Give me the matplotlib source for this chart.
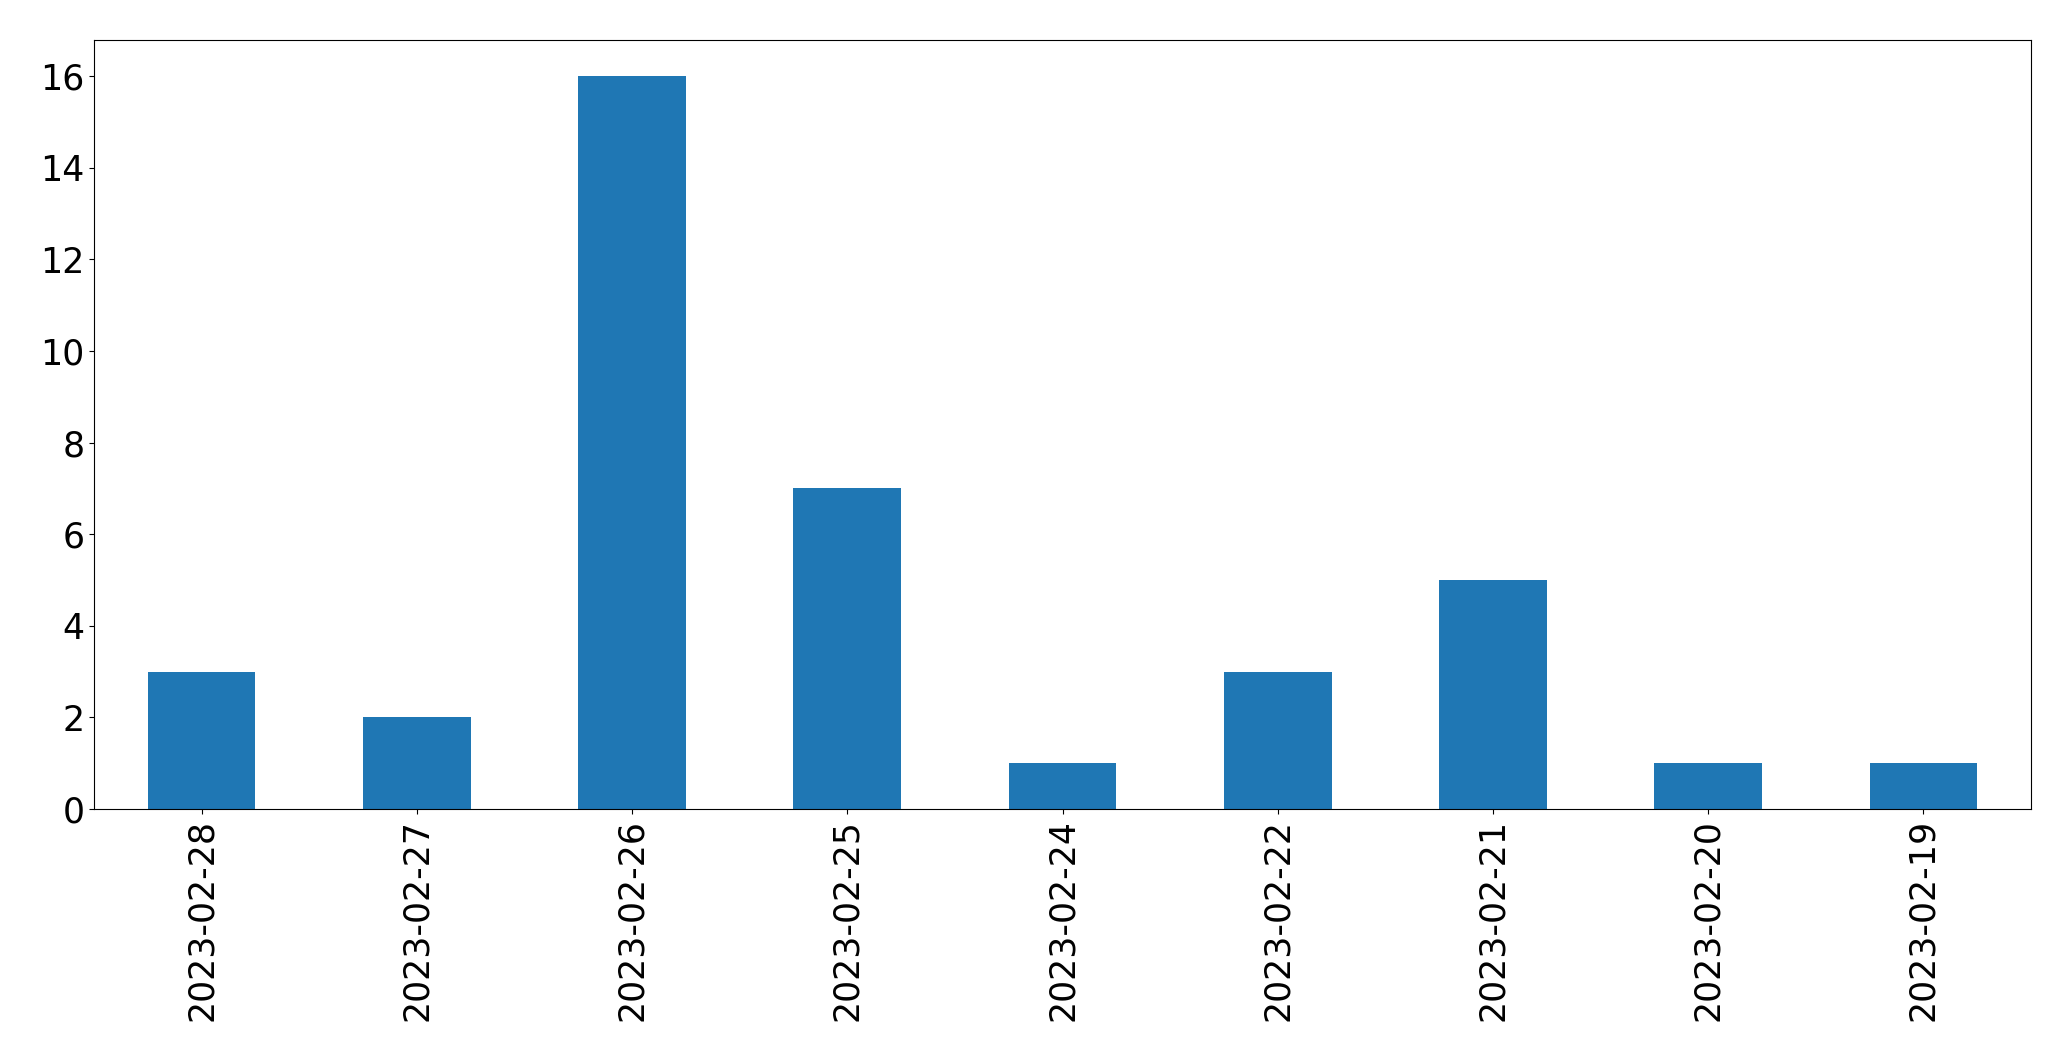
import matplotlib
matplotlib.use('Agg')
import matplotlib.pyplot as plt
import pandas as pd

# messages per day (newest first, as in the source)
dates = ['2023-02-28', '2023-02-27', '2023-02-26', '2023-02-25', '2023-02-24',
         '2023-02-22', '2023-02-21', '2023-02-20', '2023-02-19']
counts = [3, 2, 16, 7, 1, 3, 5, 1, 1]

series = pd.Series(counts, index=dates)

fig = plt.figure(figsize=(20.71, 10.61), dpi=100)
ax = fig.add_axes([94 / 2071, (1061 - 809) / 1061, (2031 - 94) / 2071, (809 - 39.5) / 1061])
series.plot(kind='bar', ax=ax, color='#1f77b4', fontsize=25)
ax.set_ylim(0, 16.8)

fig.savefig('out.png', dpi=100)
